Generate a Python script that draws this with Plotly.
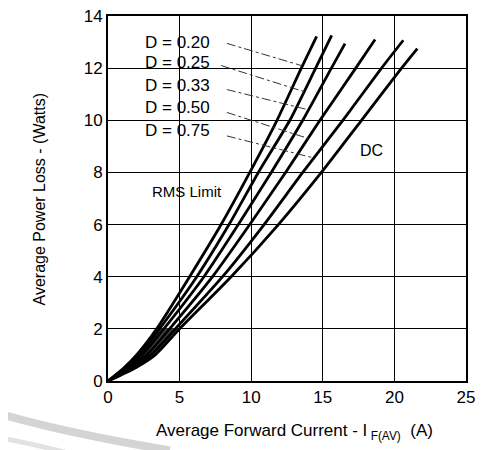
import plotly.graph_objects as go

# forward current (A) / power loss (W)
d020_i = [0, 1.1, 2.0, 3.4, 5.7, 7.9, 9.9, 11.8, 13.5, 14.57]
d020_p = [0, 0.5, 1.0, 2.0, 4.0, 6.0, 8.0, 10.0, 12.0, 13.22]
d025_i = [0, 1.2, 2.2, 3.6, 6.2, 8.45, 10.5, 12.7, 14.5, 15.62]
d025_p = [0, 0.5, 1.0, 2.0, 4.0, 6.0, 8.0, 10.0, 12.0, 13.26]
d033_i = [0, 1.3, 2.4, 3.9, 6.7, 9.1, 11.4, 13.6, 15.6, 16.55]
d033_p = [0, 0.5, 1.0, 2.0, 4.0, 6.0, 8.0, 10.0, 12.0, 12.94]
d050_i = [0, 1.5, 2.7, 4.3, 7.3, 9.9, 12.4, 14.8, 17.3, 18.65]
d050_p = [0, 0.5, 1.0, 2.0, 4.0, 6.0, 8.0, 10.0, 12.0, 13.1]
d075_i = [0, 1.7, 3.0, 4.7, 8.0, 10.9, 13.6, 16.4, 19.1, 20.62]
d075_p = [0, 0.5, 1.0, 2.0, 4.0, 6.0, 8.0, 10.0, 12.0, 13.07]
dc_i = [0, 1.9, 3.3, 5.0, 8.6, 11.9, 14.9, 17.7, 20.5, 21.6]
dc_p = [0, 0.5, 1.0, 2.0, 4.0, 6.0, 8.0, 10.0, 12.0, 12.75]

duty_labels = ["D = 0.20", "D = 0.25", "D = 0.33", "D = 0.50", "D = 0.75"]
label_y = [13.0, 12.2, 11.34, 10.5, 9.62]
# leader lines from label to curve
leader_x = [[8.3, 13.5], [7.9, 13.7], [8.3, 14.0], [8.3, 14.0], [8.3, 14.4]]
leader_y = [[12.95, 12.1], [12.1, 11.1], [11.18, 10.4], [10.3, 9.3], [9.4, 8.55]]

x_ticks = [0, 5, 10, 15, 20, 25]
y_ticks = [0, 2, 4, 6, 8, 10, 12, 14]

FONT = "Liberation Sans, Arial, sans-serif"

fig = go.Figure()

# dark band where the curves bunch up near the origin
n = 4
band_x = d020_i[:n] + dc_i[:n][::-1]
band_y = d020_p[:n] + dc_p[:n][::-1]
fig.add_trace(go.Scatter(x=band_x, y=band_y, mode="lines", fill="toself",
                         fillcolor="#4a4a4a", line=dict(color="#4a4a4a", width=1),
                         hoverinfo="skip"))

curves = [(d020_i, d020_p), (d025_i, d025_p), (d033_i, d033_p),
          (d050_i, d050_p), (d075_i, d075_p), (dc_i, dc_p)]
for xs, ys in curves:
    fig.add_trace(go.Scatter(x=xs, y=ys, mode="lines",
                             line=dict(color="black", width=2.8, shape="spline", smoothing=0.6),
                             hoverinfo="skip"))

for lx, ly in zip(leader_x, leader_y):
    fig.add_trace(go.Scatter(x=lx, y=ly, mode="lines",
                             line=dict(color="#333", width=1, dash="dashdot"),
                             hoverinfo="skip"))

for txt, yy in zip(duty_labels, label_y):
    fig.add_annotation(x=2.45, y=yy, text=txt, showarrow=False, xanchor="left",
                       font=dict(size=17, color="black", family=FONT))

fig.add_annotation(x=5.5, y=7.25, text="RMS Limit", showarrow=False,
                   font=dict(size=15, color="black", family=FONT))
fig.add_annotation(x=18.4, y=8.85, text="DC", showarrow=False,
                   font=dict(size=16, color="black", family=FONT))

fig.add_annotation(x=-0.19, y=0.5, xref="paper", yref="paper", textangle=-90,
                   xanchor="center", yanchor="middle",
                   text="Average Power Loss - (Watts)", showarrow=False,
                   font=dict(size=16, color="black", family=FONT))
fig.add_annotation(x=0.52, y=-0.14, xref="paper", yref="paper",
                   xanchor="center", yanchor="middle",
                   text="Average Forward Current - I<sub> F(AV)</sub>  (A)", showarrow=False,
                   font=dict(size=17, color="black", family=FONT))

# faint watermark arcs bottom-left
fig.add_shape(type="path", xref="paper", yref="paper",
              path="M -0.302 -0.09 Q -0.106 -0.145 0.173 -0.19", line=dict(color="#d4d4d4", width=8))
fig.add_shape(type="path", xref="paper", yref="paper",
              path="M -0.302 -0.155 Q -0.2 -0.175 -0.12 -0.195", line=dict(color="#e2e2e2", width=5))

fig.update_xaxes(range=[0, 25], tickvals=x_ticks, showgrid=True, gridcolor="black", gridwidth=1.3,
                 showline=True, linecolor="black", linewidth=2, mirror=True, zeroline=False,
                 automargin=False, ticklabeloverflow="allow",
                 ticks="", tickfont=dict(size=17, color="black", family=FONT))
fig.update_yaxes(range=[0, 14], tickvals=y_ticks, showgrid=True, gridcolor="black", gridwidth=1.3,
                 showline=True, linecolor="black", linewidth=2, mirror=True, zeroline=False,
                 automargin=False, ticklabeloverflow="allow",
                 ticks="", tickfont=dict(size=17, color="black", family=FONT))

# page body adds an 8px offset, so the figure is a bit smaller than the window
fig.update_layout(width=477, height=442, showlegend=False,
                  margin=dict(l=100, r=19, t=8, b=69),
                  plot_bgcolor="white", paper_bgcolor="white")

fig.write_html("out.html")
